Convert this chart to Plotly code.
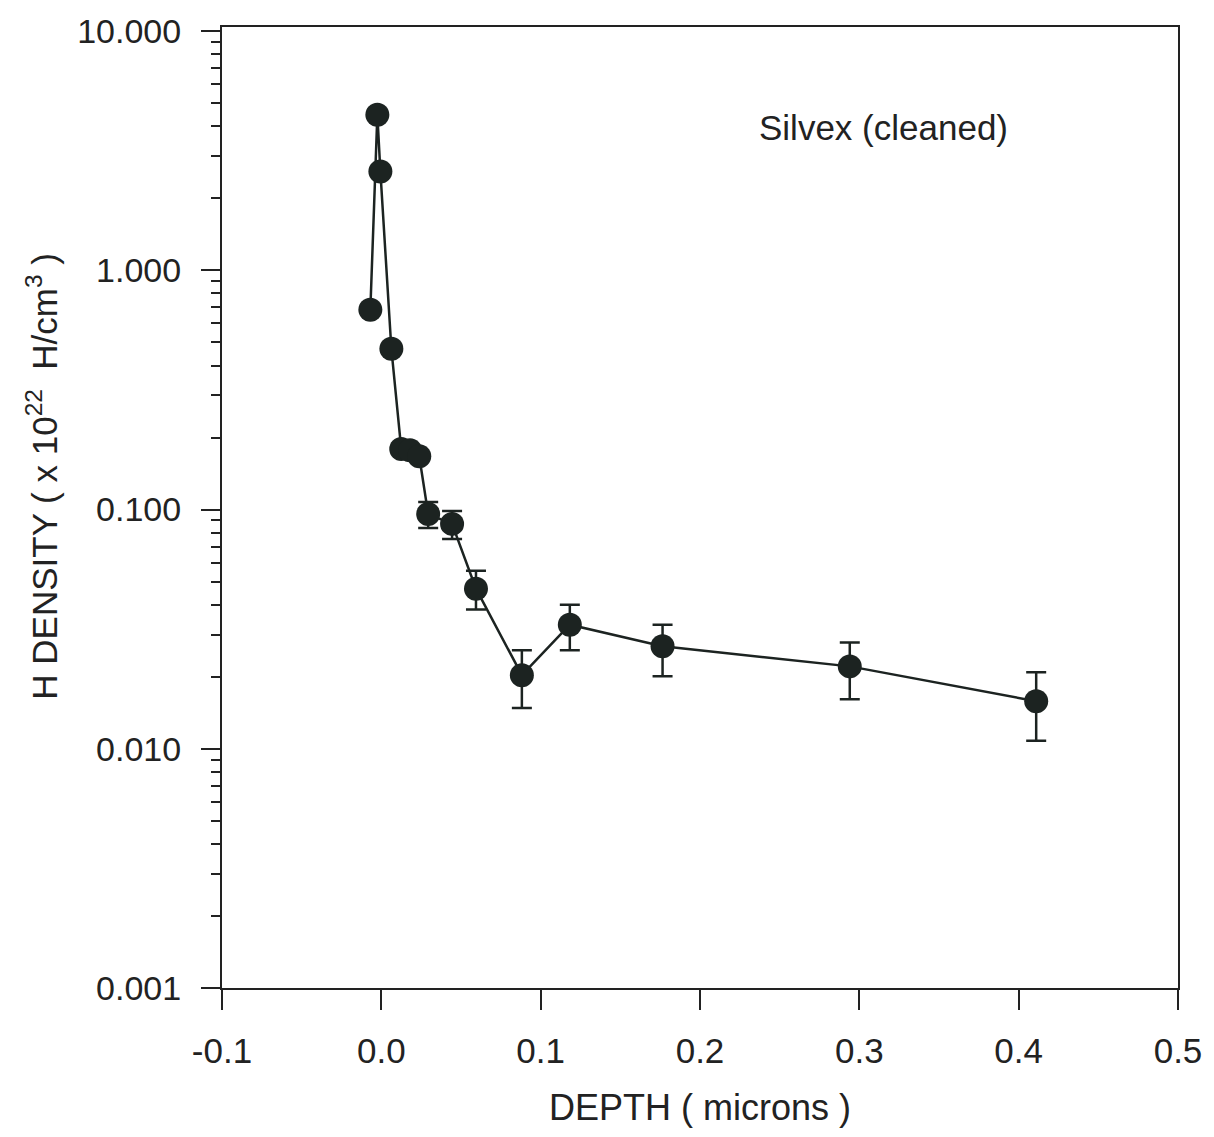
import plotly.graph_objects as go

# Data
depth = [-0.0069, -0.0025, -0.0006, 0.0063, 0.0125, 0.0180, 0.0238,
         0.0294, 0.0444, 0.0594, 0.0882, 0.1183, 0.1765, 0.2940, 0.4110]
density = [0.684, 4.47, 2.59, 0.470, 0.179, 0.177, 0.167,
           0.0957, 0.0871, 0.0467, 0.0203, 0.0330, 0.0268, 0.0221, 0.0158]
upper = [None, None, None, None, None, None, None,
         0.1074, 0.0986, 0.0555, 0.0258, 0.0400, 0.0330, 0.0278, 0.0209]
lower = [None, None, None, None, None, None, None,
         0.0837, 0.0753, 0.0382, 0.0148, 0.0258, 0.0201, 0.0161, 0.0108]

x_tickvals = [-0.1, 0.0, 0.1, 0.2, 0.3, 0.4, 0.5]
x_ticktext = ["-0.1", "0.0", "0.1", "0.2", "0.3", "0.4", "0.5"]
y_tickvals = [0.001, 0.01, 0.1, 1, 10]
y_ticktext = ["0.001", "0.010", "0.100", "1.000", "10.000"]

err_plus = [None if u is None else u - y for u, y in zip(upper, density)]
err_minus = [None if l is None else y - l for l, y in zip(lower, density)]

ink = "#1c2321"
W, H = 1214, 1137
L, R, T, B = 222, 33, 23, 149

fig = go.Figure()
fig.add_trace(go.Scatter(
    x=depth, y=density, mode="lines+markers",
    line=dict(color=ink, width=2.5),
    marker=dict(size=24, color=ink),
    error_y=dict(type="data", symmetric=False, array=err_plus,
                 arrayminus=err_minus, color=ink, thickness=2.5, width=10),
    showlegend=False,
))

# in-plot label
fig.add_annotation(
    x=(886 - L) / (W - L - R), y=(H - B - 124) / (H - B - T),
    xref="paper", yref="paper", text="Silvex (cleaned)", showarrow=False,
    font=dict(family="Liberation Sans, Arial", size=35, color="#222"),
    xanchor="center", yanchor="middle",
)

# y-axis title as rotated annotation (offset upward like the reference)
fig.add_annotation(
    x=(42 - L) / (W - L - R), y=(H - B - 474) / (H - B - T),
    xref="paper", yref="paper",
    text="H DENSITY ( x 10<sup>22</sup>  H/cm<sup>3</sup> )",
    showarrow=False, textangle=-90,
    font=dict(family="Liberation Sans, Arial", size=35, color="#222"),
    xanchor="center", yanchor="middle",
)

fig.update_layout(
    width=W, height=H,
    margin=dict(l=L, r=R, t=T, b=B),
    plot_bgcolor="white", paper_bgcolor="white",
    font=dict(family="Liberation Sans, Arial", color="#222"),
)

fig.update_xaxes(
    range=[-0.1, 0.5], tickvals=x_tickvals, ticktext=x_ticktext,
    showgrid=False, zeroline=False,
    showline=True, linecolor="#222", linewidth=2, mirror=True,
    ticks="outside", ticklen=20, tickwidth=2, tickcolor="#222",
    tickfont=dict(size=35), ticklabelstandoff=11,
    title=dict(text="DEPTH ( microns )", font=dict(size=36), standoff=26),
)

fig.update_yaxes(
    type="log", range=[-3, 1.017], tickvals=y_tickvals, ticktext=y_ticktext,
    showgrid=False, zeroline=False,
    showline=True, linecolor="#222", linewidth=2, mirror=True,
    ticks="outside", ticklen=19, tickwidth=2, tickcolor="#222",
    tickfont=dict(size=34), ticklabelstandoff=13,
    minor=dict(ticks="outside", ticklen=9, tickwidth=1.5, tickcolor="#222",
               dtick="D1", showgrid=False),
)

fig.write_html("out.html")
